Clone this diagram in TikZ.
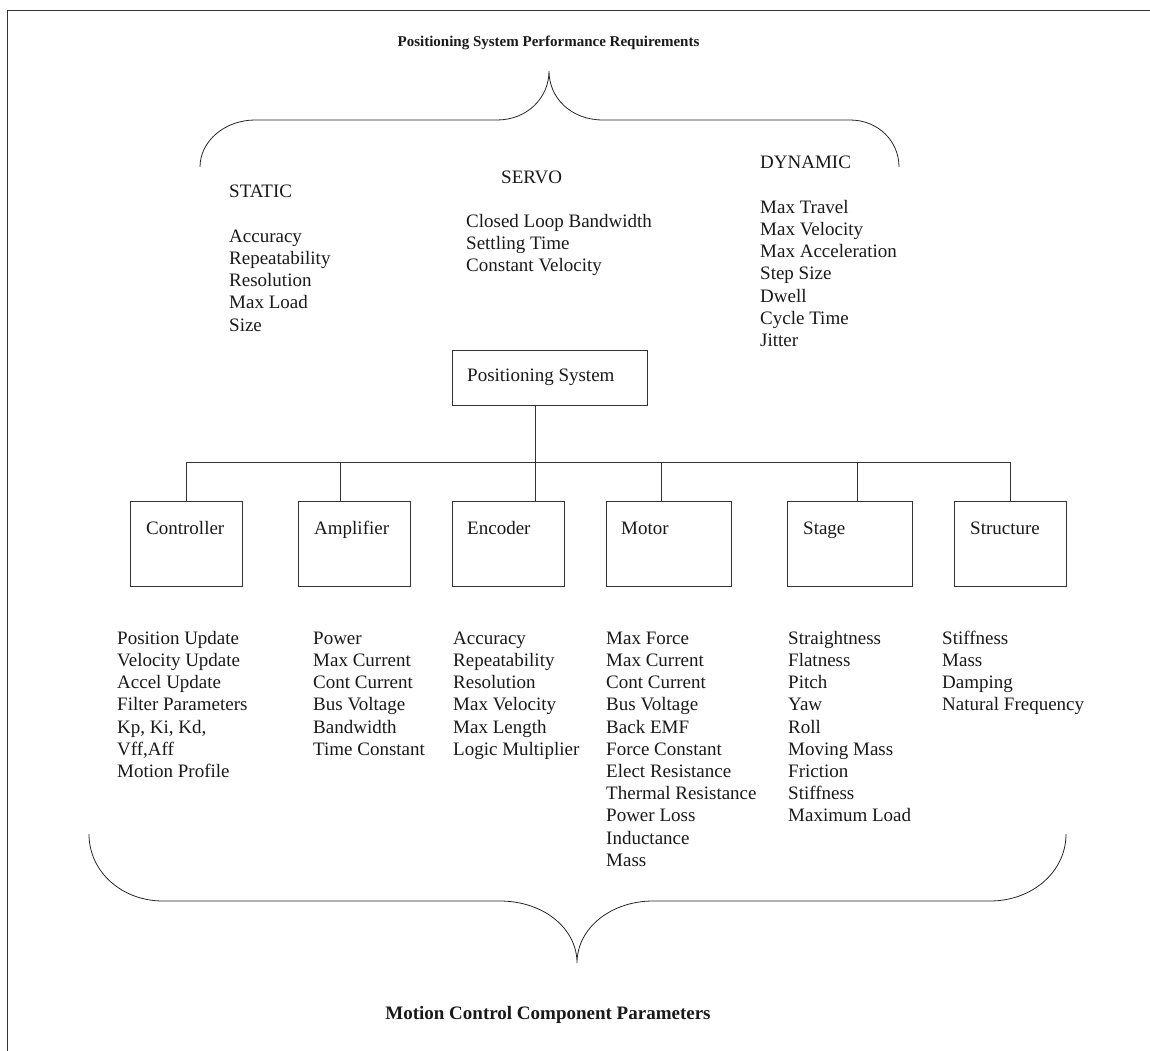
\documentclass[tikz,border=0pt]{standalone}
\usepackage{fontspec}
\setmainfont{Liberation Serif}
\begin{document}
\begin{tikzpicture}[x=1pt,y=-1pt,
  ln/.style={line width=0.9pt, draw=black!80},
  thin/.style={line width=0.8pt, draw=black!85},
  box/.style={draw=black!80, line width=0.9pt, inner sep=0pt, minimum height=85pt},
  txt/.style={font=\fontsize{19}{22.2}\selectfont, inner sep=0pt, text=black!90},
  lbl/.style={txt, anchor=base west},
  lst/.style={txt, align=left, anchor=north west},
  ttl/.style={inner sep=0pt, anchor=base, text=black!90}]
\useasboundingbox (0,0) rectangle (1150,1051);
% frame (cut off at right and bottom)
\draw[ln] (7,1051) -- (7,10) -- (1150,10);

% titles
\node[ttl, font=\fontsize{15}{18}\selectfont\bfseries] (ttop) at (548.5,47) {Positioning System Performance Requirements};
\node[ttl, font=\fontsize{19}{22}\selectfont\bfseries] (tbot) at (548,1019) {Motion Control Component Parameters};

% top brace
\draw[thin] (200,167) .. controls (200,141) and (225,120) .. (255,120) -- (497,120)
  .. controls (527,120) and (549,98) .. (549,71)
  .. controls (549,98) and (571,120) .. (603,120) -- (850,120)
  .. controls (878,120) and (899,141) .. (899,167);

% bottom brace
\draw[thin] (89,834) .. controls (89,872) and (122,901) .. (163,901) -- (500,901)
  .. controls (543,901) and (577,928) .. (577,963)
  .. controls (577,928) and (611,901) .. (653,901) -- (990,901)
  .. controls (1032,901) and (1066,872) .. (1066,834);

% requirement lists
\node[lbl] (static) at (229,197) {STATIC};
\node[lst] (staticl) at (229,226.46) {\strut Accuracy\\\strut Repeatability\\\strut Resolution\\\strut Max Load\\\strut Size};
\node[lbl] (servo) at (501,184) {SERVO};
\node[lst] (servol) at (466,211.46) {\strut Closed Loop Bandwidth\\\strut Settling Time\\\strut Constant Velocity};
\node[lbl] (dyn) at (760,169) {DYNAMIC};
\node[lst] (dynl) at (760,197.46) {\strut Max Travel\\\strut Max Velocity\\\strut Max Acceleration\\\strut Step Size\\\strut Dwell\\\strut Cycle Time\\\strut Jitter};

% positioning system box
\node[box, minimum width=195pt, minimum height=55pt] (ps) at (549.5,377.5) {};
\node[lbl] (pst) at (467,381) {Positioning System};

% component boxes
\node[box, minimum width=112pt] (ctl) at (186,543.5) {};
\node[box, minimum width=112pt] (amp) at (354,543.5) {};
\node[box, minimum width=112pt] (enc) at (508,543.5) {};
\node[box, minimum width=125pt] (mot) at (668.5,543.5) {};
\node[box, minimum width=125pt] (stg) at (849.5,543.5) {};
\node[box, minimum width=112pt] (str) at (1010,543.5) {};
\node[lbl] (ctlt) at (146,534) {Controller};
\node[lbl] (ampt) at (314,534) {Amplifier};
\node[lbl] (enct) at (467,534) {Encoder};
\node[lbl] (mott) at (621,534) {Motor};
\node[lbl] (stgt) at (803,534) {Stage};
\node[lbl] (strt) at (970,534) {Structure};

% connectors
\coordinate (j1) at (186,462);
\coordinate (j2) at (340,462);
\coordinate (j3) at (535,462);
\coordinate (j4) at (661,462);
\coordinate (j5) at (857,462);
\coordinate (j6) at (1010,462);
\draw[ln] (j1) -- (j6);
\draw[ln] (j3 |- ps.south) -- (j3 |- enc.north);
\draw[ln] (j1) -- (j1 |- ctl.north);
\draw[ln] (j2) -- (j2 |- amp.north);
\draw[ln] (j4) -- (j4 |- mot.north);
\draw[ln] (j5) -- (j5 |- stg.north);
\draw[ln] (j6) -- (j6 |- str.north);

% parameter lists
\node[lst] (ctll) at (117,628.46) {\strut Position Update\\\strut Velocity Update\\\strut Accel Update\\\strut Filter Parameters\\\strut Kp, Ki, Kd,\\\strut Vff,Aff\\\strut Motion Profile};
\node[lst] (ampl) at (313,628.46) {\strut Power\\\strut Max Current\\\strut Cont Current\\\strut Bus Voltage\\\strut Bandwidth\\\strut Time Constant};
\node[lst] (encl) at (453,628.46) {\strut Accuracy\\\strut Repeatability\\\strut Resolution\\\strut Max Velocity\\\strut Max Length\\\strut Logic Multiplier};
\node[lst] (motl) at (606,628.46) {\strut Max Force\\\strut Max Current\\\strut Cont Current\\\strut Bus Voltage\\\strut Back EMF\\\strut Force Constant\\\strut Elect Resistance\\\strut Thermal Resistance\\\strut Power Loss\\\strut Inductance\\\strut Mass};
\node[lst] (stgl) at (788,628.46) {\strut Straightness\\\strut Flatness\\\strut Pitch\\\strut Yaw\\\strut Roll\\\strut Moving Mass\\\strut Friction\\\strut Stiffness\\\strut Maximum Load};
\node[lst] (strl) at (942,628.46) {\strut Stiffness\\\strut Mass\\\strut Damping\\\strut Natural Frequency};
\end{tikzpicture}
\end{document}
